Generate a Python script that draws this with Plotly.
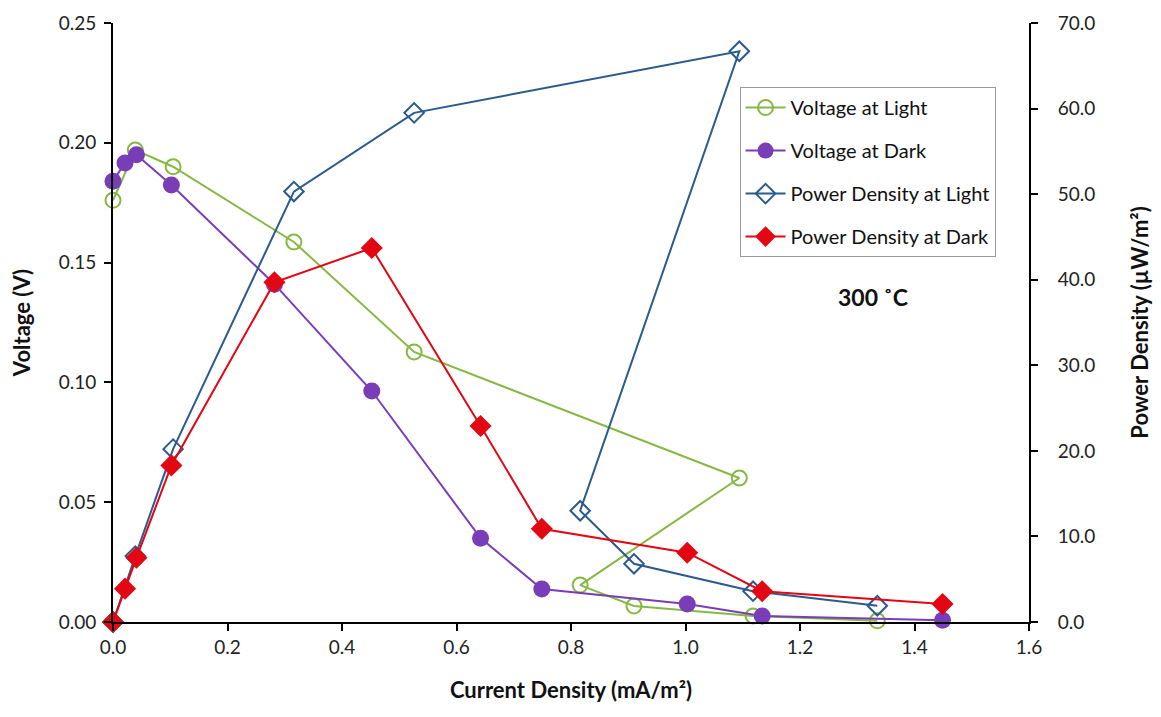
import plotly.graph_objects as go

# Voltage / power at light
x_light = [0.0, 0.039, 0.105, 0.316, 0.526, 1.094, 0.816, 0.910, 1.118, 1.335]
v_light = [0.176, 0.197, 0.190, 0.1586, 0.1127, 0.0601, 0.0154, 0.0067, 0.0025, 0.0005]
p_light = [0.0, 7.7, 20.2, 50.3, 59.5, 66.7, 13.0, 6.8, 3.6, 1.9]

# Voltage / power at dark
x_dark = [0.0, 0.021, 0.041, 0.102, 0.282, 0.452, 0.642, 0.749, 1.003, 1.134, 1.449]
v_dark = [0.184, 0.1916, 0.195, 0.1824, 0.141, 0.0964, 0.035, 0.0138, 0.0075, 0.0025, 0.0007]
p_dark = [0.0, 3.9, 7.5, 18.3, 39.7, 43.7, 22.9, 10.9, 8.1, 3.6, 2.1]

x_ticks = [0.0, 0.2, 0.4, 0.6, 0.8, 1.0, 1.2, 1.4, 1.6]
v_ticks = [0.0, 0.05, 0.10, 0.15, 0.20, 0.25]
p_ticks = [0, 10, 20, 30, 40, 50, 60, 70]

GREEN = "#86B943"
PURPLE = "#7A3DB8"
BLUE = "#2B5A8C"
RED = "#E30613"
FONT = "Lato, Roboto, sans-serif"

fig = go.Figure()
fig.add_trace(go.Scatter(
    x=x_light, y=v_light, name="Voltage at Light", mode="lines+markers",
    line=dict(color=GREEN, width=2),
    marker=dict(symbol="circle-open", size=15, color=GREEN, line=dict(width=2)),
    cliponaxis=False, legendgroup="a"))
fig.add_trace(go.Scatter(
    x=x_dark, y=v_dark, name="Voltage at Dark", mode="lines+markers",
    line=dict(color=PURPLE, width=2),
    marker=dict(symbol="circle", size=17, color=PURPLE),
    cliponaxis=False, legendgroup="b"))
fig.add_trace(go.Scatter(
    x=x_light, y=p_light, name="Power Density at Light", mode="lines+markers",
    line=dict(color=BLUE, width=2),
    marker=dict(symbol="diamond-open", size=15, color=BLUE, line=dict(width=2)),
    yaxis="y2", cliponaxis=False, legendgroup="c"))
fig.add_trace(go.Scatter(
    x=x_dark, y=p_dark, name="Power Density at Dark", mode="lines+markers",
    line=dict(color=RED, width=2),
    marker=dict(symbol="diamond", size=17, color=RED),
    yaxis="y2", cliponaxis=False, legendgroup="d"))

axis_common = dict(showline=True, linecolor="black", linewidth=2, ticks="outside",
                   ticklen=7, tickwidth=2, tickcolor="black", showgrid=False,
                   zeroline=False, automargin=False,
                   tickfont=dict(family=FONT, size=19, color="#222"))
TITLE_FONT = dict(family=FONT, size=22, color="#111")

fig.update_layout(
    width=1153, height=709,
    paper_bgcolor="white", plot_bgcolor="white",
    margin=dict(l=105, r=132, t=15, b=95),
    xaxis=dict(range=[0, 1.6], tickvals=x_ticks, tickformat=".1f",
               title=dict(text="<b>Current Density (mA/m²)</b>", font=TITLE_FONT, standoff=26),
               **axis_common),
    yaxis=dict(range=[0, 0.25], tickvals=v_ticks, tickformat=".2f", ticklabelstandoff=4,
               title=dict(text="<b>Voltage (V)</b>", font=TITLE_FONT, standoff=30),
               **axis_common),
    yaxis2=dict(range=[0, 70], tickvals=p_ticks, tickformat=".1f", overlaying="y", side="right",
                ticklabelstandoff=16,
                title=dict(text="<b>Power Density (µW/m²)</b>", font=TITLE_FONT, standoff=38),
                **axis_common),
    legend=dict(x=0.684, y=0.893, xanchor="left", yanchor="top",
                bgcolor="white", bordercolor="#999", borderwidth=1,
                font=dict(family=FONT, size=20, color="#111"), tracegroupgap=14,
                itemwidth=40),
    showlegend=True,
)
fig.add_annotation(x=1.327, y=0.1357, xref="x", yref="y", text="<b>300 ˚C</b>",
                   showarrow=False, font=dict(family=FONT, size=23, color="#111"))

fig.write_html("out.html")
